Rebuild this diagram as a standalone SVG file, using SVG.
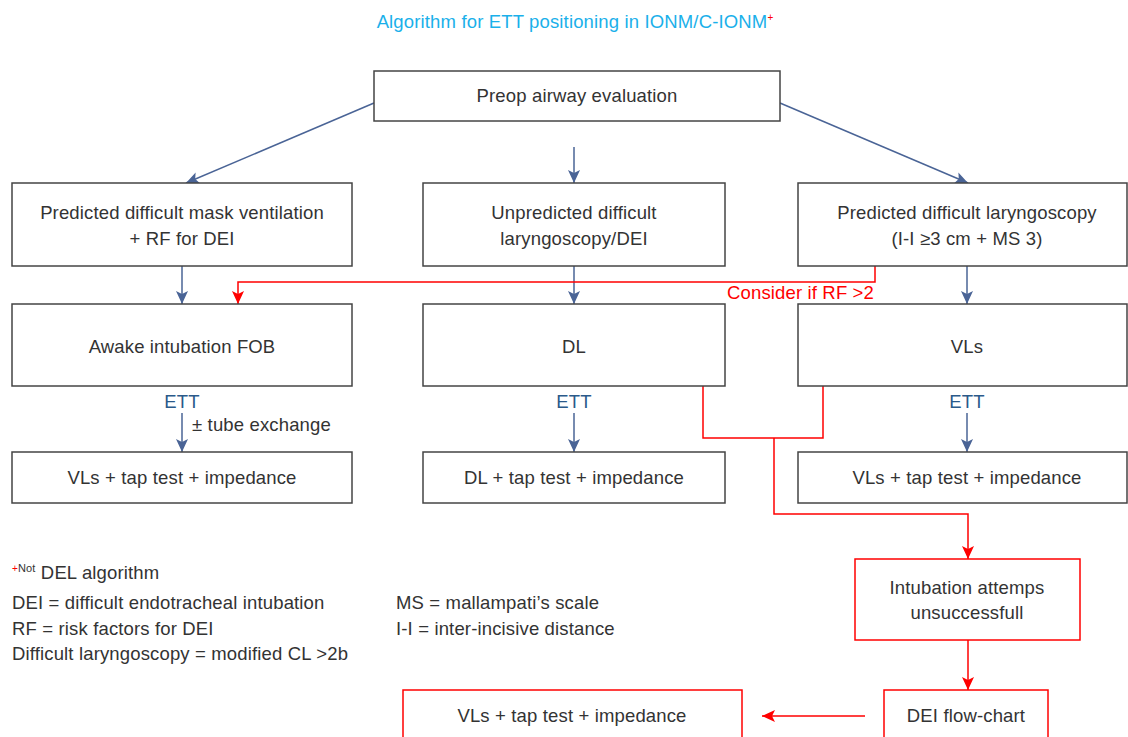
<svg xmlns="http://www.w3.org/2000/svg" width="1128" height="737" viewBox="0 0 1128 737">
<defs>
<marker id="ab" viewBox="0 0 13 12" refX="13" refY="6" markerWidth="13" markerHeight="12" markerUnits="userSpaceOnUse" orient="auto"><path d="M0,0 L13,6 L0,12 L3,6 Z" fill="#4a6496"/></marker>
<marker id="ar" viewBox="0 0 13 12" refX="13" refY="6" markerWidth="13" markerHeight="12" markerUnits="userSpaceOnUse" orient="auto"><path d="M0,0 L13,6 L0,12 L3,6 Z" fill="#ff0000"/></marker>
</defs>
<style>
text{font-family:"Liberation Sans",Arial,sans-serif;font-size:18.5px;letter-spacing:0.15px;fill:#333}
.box{fill:#fff;stroke:#444;stroke-width:1.5}
.rbox{fill:#fff;stroke:#ff0000;stroke-width:1.5}
.c{text-anchor:middle}
.bl{fill:none;stroke:#4a6496;stroke-width:1.5;marker-end:url(#ab)}
.rl{fill:none;stroke:#ff0000;stroke-width:1.5}
.ra{fill:none;stroke:#ff0000;stroke-width:1.5;marker-end:url(#ar)}
.ett{fill:#2b5a8a}
.red{fill:#ff0000}
</style>
<rect width="1128" height="737" fill="#fff"/>
<text class="c" x="575" y="28" style="fill:#1ab0ea">Algorithm for ETT positioning in IONM/C-IONM<tspan class="red" font-size="10" dy="-7">+</tspan></text>

<g id="connectors">
<line class="bl" x1="374" y1="103" x2="186" y2="183"/>
<line class="bl" x1="574" y1="147" x2="574" y2="183"/>
<line class="bl" x1="780" y1="103" x2="968" y2="183"/>
<line class="bl" x1="182" y1="266" x2="182" y2="304"/>
<line class="bl" x1="574" y1="266" x2="574" y2="304"/>
<line class="bl" x1="967" y1="266" x2="967" y2="304"/>
<polyline class="ra" points="875,266 875,282 238,282 238,304"/>
<line class="bl" x1="182" y1="413" x2="182" y2="452"/>
<line class="bl" x1="574" y1="413" x2="574" y2="452"/>
<line class="bl" x1="967" y1="413" x2="967" y2="452"/>
<polyline class="rl" points="703,386 703,438 823,438 823,386"/>
<polyline class="ra" points="774,438 774,514 968,514 968,559"/>
<line class="ra" x1="968" y1="640" x2="968" y2="690"/>
<line class="ra" x1="865" y1="716" x2="762" y2="716"/>
<text class="red" x="727" y="299">Consider if RF &gt;2</text>
<text class="c ett" x="182" y="408">ETT</text>
<text x="192" y="431">± tube exchange</text>
<text class="c ett" x="574" y="408">ETT</text>
<text class="c ett" x="967" y="408">ETT</text>
</g>

<g id="n-preop"><rect class="box" x="374" y="71" width="406" height="50"/><text class="c" x="577" y="102">Preop airway evaluation</text></g>

<g id="n-pdmv"><rect class="box" x="12" y="183" width="340" height="83"/><text class="c" x="182" y="219">Predicted difficult mask ventilation</text><text class="c" x="182" y="245">+ RF for DEI</text></g>
<g id="n-udl"><rect class="box" x="423" y="183" width="302" height="83"/><text class="c" x="574" y="219">Unpredicted difficult</text><text class="c" x="574" y="245">laryngoscopy/DEI</text></g>
<g id="n-pdl"><rect class="box" x="798" y="183" width="329" height="83"/><text class="c" x="967" y="219">Predicted difficult laryngoscopy</text><text class="c" x="967" y="245">(I-I ≥3 cm + MS 3)</text></g>

<g id="n-awake"><rect class="box" x="12" y="304" width="340" height="82"/><text class="c" x="182" y="353">Awake intubation FOB</text></g>
<g id="n-dl"><rect class="box" x="423" y="304" width="302" height="82"/><text class="c" x="574" y="353">DL</text></g>
<g id="n-vls"><rect class="box" x="798" y="304" width="329" height="82"/><text class="c" x="967" y="353">VLs</text></g>

<g id="n-r4a"><rect class="box" x="12" y="452" width="340" height="51"/><text class="c" x="182" y="484">VLs + tap test + impedance</text></g>
<g id="n-r4b"><rect class="box" x="423" y="452" width="302" height="51"/><text class="c" x="574" y="484">DL + tap test + impedance</text></g>
<g id="n-r4c"><rect class="box" x="798" y="452" width="329" height="51"/><text class="c" x="967" y="484">VLs + tap test + impedance</text></g>

<g id="n-fail"><rect class="rbox" x="855" y="559" width="225" height="81"/><text class="c" x="967" y="594">Intubation attemps</text><text class="c" x="967" y="619">unsuccessfull</text></g>
<g id="n-dei"><rect class="rbox" x="884" y="690" width="164" height="60"/><text class="c" x="966" y="722">DEI flow-chart</text></g>
<g id="n-final"><rect class="rbox" x="403" y="690" width="339" height="60"/><text class="c" x="572" y="722">VLs + tap test + impedance</text></g>

<g id="legend">
<text x="12" y="579"><tspan class="red" font-size="10" dy="-7">+</tspan><tspan font-size="11">Not</tspan><tspan dy="7"> DEL algorithm</tspan></text>
<text x="12" y="609">DEI = difficult endotracheal intubation</text>
<text x="12" y="635">RF = risk factors for DEI</text>
<text x="12" y="660">Difficult laryngoscopy = modified CL &gt;2b</text>
<text x="396" y="609">MS = mallampati’s scale</text>
<text x="396" y="635">I-I = inter-incisive distance</text>
</g>
</svg>
